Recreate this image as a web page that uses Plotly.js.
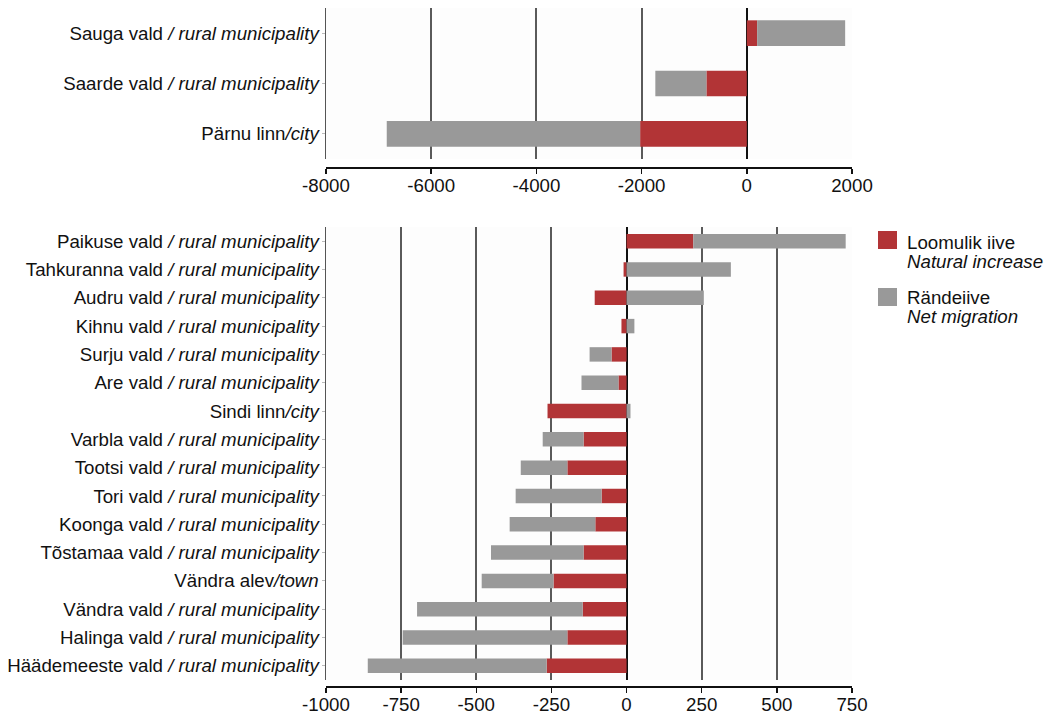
<!DOCTYPE html>
<html>
<head>
<meta charset="utf-8">
<script src="https://cdn.plot.ly/plotly-3.0.1.min.js"></script>
<style>html,body{margin:0;padding:0;background:#fff;}#chart{width:1053px;height:716px;}</style>
</head>
<body>
<div id="chart"></div>
<script>
// Top panel (towns with large values)
const topCategories = [
  'Sauga vald<i> / rural municipality</i>',
  'Saarde vald<i> / rural municipality</i>',
  'Pärnu linn<i>/city</i>'
];
const topNatural = [197, -768, -2028];
const topMigration = [1673, -971, -4817];

// Bottom panel
const bottomCategories = [
  'Paikuse vald<i> / rural municipality</i>',
  'Tahkuranna vald<i> / rural municipality</i>',
  'Audru vald<i> / rural municipality</i>',
  'Kihnu vald<i> / rural municipality</i>',
  'Surju vald<i> / rural municipality</i>',
  'Are vald<i> / rural municipality</i>',
  'Sindi linn<i>/city</i>',
  'Varbla vald<i> / rural municipality</i>',
  'Tootsi vald<i> / rural municipality</i>',
  'Tori vald<i> / rural municipality</i>',
  'Koonga vald<i> / rural municipality</i>',
  'Tõstamaa vald<i> / rural municipality</i>',
  'Vändra alev<i>/town</i>',
  'Vändra vald<i> / rural municipality</i>',
  'Halinga vald<i> / rural municipality</i>',
  'Häädemeeste vald<i> / rural municipality</i>'
];
const bottomNatural = [222, -10, -106, -17, -50, -27, -263, -143, -197, -83, -104, -143, -243, -146, -197, -266];
const bottomMigration = [507, 347, 257, 26, -73, -123, 13, -136, -155, -286, -285, -308, -239, -551, -548, -595];

const topTicks = [-8000, -6000, -4000, -2000, 0, 2000];
const bottomTicks = [-1000, -750, -500, -250, 0, 250, 500, 750];

const legendNames = ['Loomulik iive', 'Rändeiive'];
const legendNamesEn = ['Natural increase', 'Net migration'];

const RED = '#b23436', GREY = '#999999';
const FONT = 'Liberation Sans, Arial, sans-serif';
const FS = 18.7;

const traces = [
  {type:'bar', orientation:'h', name:legendNames[0], x:topNatural, y:topCategories, xaxis:'x', yaxis:'y', marker:{color:RED}, showlegend:false},
  {type:'bar', orientation:'h', name:legendNames[1], x:topMigration, y:topCategories, xaxis:'x', yaxis:'y', marker:{color:GREY}, showlegend:false},
  {type:'bar', orientation:'h', name:legendNames[0], x:bottomNatural, y:bottomCategories, xaxis:'x2', yaxis:'y2', marker:{color:RED}, showlegend:false},
  {type:'bar', orientation:'h', name:legendNames[1], x:bottomMigration, y:bottomCategories, xaxis:'x2', yaxis:'y2', marker:{color:GREY}, showlegend:false}
];

const H = 716, L = 326, W = 526;
const py = p => 1 - p / H;
const px = p => (p - L) / W;

const xCommon = {
  showgrid:true, gridcolor:'#5a5a5a', gridwidth:2,
  zeroline:true, zerolinecolor:'#111', zerolinewidth:2,
  showline:true, linecolor:'#111', linewidth:1.5,
  ticks:'outside', ticklen:5, tickcolor:'#111', tickwidth:1.5,
  ticklabelstandoff:-4,
  tickfont:{family:FONT, size:FS, color:'#111'},
  anchor:'free', domain:[0,1], automargin:false, fixedrange:true
};
const yCommon = {
  showgrid:false, showline:true, linecolor:'#555', linewidth:1.5,
  ticks:'outside', ticklen:3, tickcolor:'#bbb',
  ticklabelstandoff:-1,
  tickfont:{family:FONT, size:FS, color:'#111'},
  automargin:false, fixedrange:true
};

const layout = {
  width:1053, height:716,
  margin:{l:L, r:1053 - L - W, t:0, b:0},
  paper_bgcolor:'#ffffff', plot_bgcolor:'#fdfdfd',
  barmode:'relative', bargap:0.49,
  font:{family:FONT, size:FS, color:'#111'},
  showlegend:false,
  xaxis:Object.assign({}, xCommon, {range:[-8000, 2000], tickvals:topTicks, ticktext:topTicks.map(String), position:py(167)}),
  yaxis:Object.assign({}, yCommon, {domain:[py(159), py(8)], anchor:'x', autorange:'reversed'}),
  xaxis2:Object.assign({}, xCommon, {range:[-1000, 750], tickvals:bottomTicks, ticktext:bottomTicks.map(String), position:py(686)}),
  yaxis2:Object.assign({}, yCommon, {domain:[py(680), py(227)], anchor:'x2', autorange:'reversed'}),
  shapes:[
    {type:'rect', xref:'paper', yref:'paper', x0:px(878), x1:px(897), y0:py(249), y1:py(231), fillcolor:RED, line:{width:0}},
    {type:'rect', xref:'paper', yref:'paper', x0:px(878), x1:px(897), y0:py(306), y1:py(288), fillcolor:GREY, line:{width:0}}
  ],
  annotations:[
    {xref:'paper', yref:'paper', x:px(905), y:py(242), xanchor:'left', yanchor:'middle', showarrow:false, text:legendNames[0], font:{family:FONT, size:FS, color:'#111'}},
    {xref:'paper', yref:'paper', x:px(905), y:py(262), xanchor:'left', yanchor:'middle', showarrow:false, text:'<i>' + legendNamesEn[0] + '</i>', font:{family:FONT, size:FS, color:'#111'}},
    {xref:'paper', yref:'paper', x:px(905), y:py(297), xanchor:'left', yanchor:'middle', showarrow:false, text:legendNames[1], font:{family:FONT, size:FS, color:'#111'}},
    {xref:'paper', yref:'paper', x:px(905), y:py(317), xanchor:'left', yanchor:'middle', showarrow:false, text:'<i>' + legendNamesEn[1] + '</i>', font:{family:FONT, size:FS, color:'#111'}}
  ]
};

Plotly.newPlot('chart', traces, layout, {staticPlot:true, displayModeBar:false});
</script>
</body>
</html>
